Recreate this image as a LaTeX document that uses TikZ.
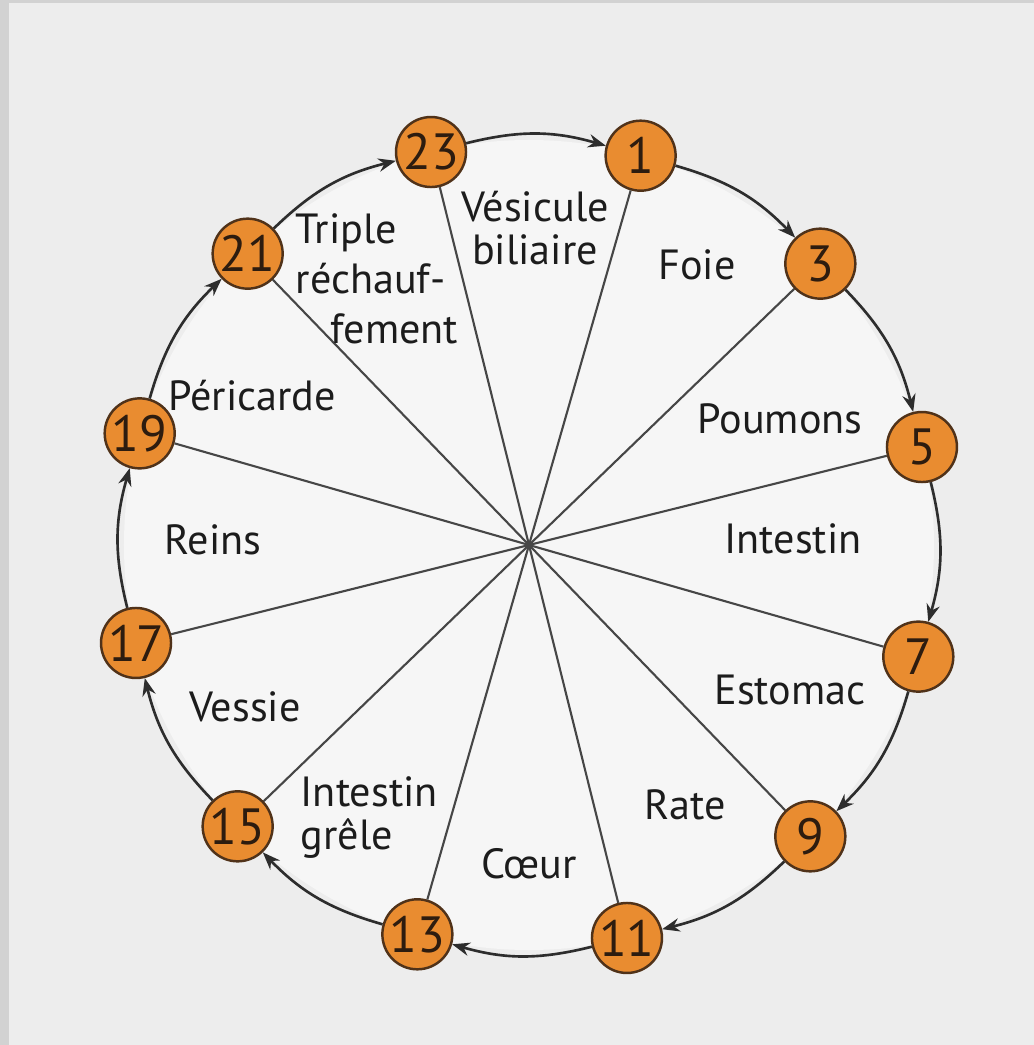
\documentclass[tikz,border=0pt]{standalone}
\usepackage{fontspec}
\setmainfont{PT Sans}
\usetikzlibrary{arrows.meta}

\definecolor{organe}{RGB}{233,140,48}
\definecolor{bord}{RGB}{80,50,25}
\definecolor{chiffre}{RGB}{45,28,15}
\definecolor{encre}{RGB}{28,28,28}
\definecolor{rayon}{RGB}{70,70,70}
\definecolor{fleche}{RGB}{45,45,45}
\definecolor{marge}{RGB}{210,210,210}
\definecolor{papier}{RGB}{237,237,237}
\definecolor{disque}{RGB}{246,246,246}

\tikzset{
  heure/.style={circle, draw=bord, fill=organe, line width=0.7pt,
    minimum size=0.7cm, inner sep=0pt, text=chiffre,
    font=\fontsize{14.5}{14.5}\selectfont},
  organe/.style={inner sep=0pt, text=encre, align=center,
    font=\fontsize{12}{12.2}\selectfont},
  rayon/.style={draw=rayon, line width=0.6pt},
  tour/.style={draw=fleche, line width=0.75pt,
    -{Stealth[length=5pt,width=3.8pt]}},
}

\begin{document}
\begin{tikzpicture}
    % Background (scanned page)
    \fill[marge] (-5.29,-5.00) rectangle (5.05,5.45);
    \fill[papier] (-5.20,-5.00) rectangle (5.05,5.42);
    \fill[disque] (0,0) circle (4.05);

    % Centre and the twelve hours
    \coordinate (c) at (0,0);
    \foreach \h [count=\i from 0] in {1,3,...,23}
        \node[heure] (h\h) at ({74-30*\i}:4.05) {\h};

    % Spokes
    \foreach \h in {1,3,...,23}
        \draw[rayon] (c) -- (h\h);

    % Clockwise cycle
    \foreach \a/\b in {1/3,3/5,5/7,7/9,9/11,11/13,13/15,15/17,17/19,19/21,21/23,23/1}
        \draw[tour] (h\a) to[bend left=15] (h\b);

    % Organs
    \node[organe] (vesicule) at (0.06,3.17) {Vésicule\\biliaire};
    \node[organe] (foie) at (1.68,2.80) {Foie};
    \node[organe] (poumons) at (2.51,1.26) {Poumons};
    \node[organe] (intestin) at (2.64,0.06) {Intestin};
    \node[organe] (estomac) at (2.61,-1.45) {Estomac};
    \node[organe] (rate) at (1.56,-2.60) {Rate};
    \node[organe] (coeur) at (0.00,-3.19) {Cœur};
    \node[organe, align=left, anchor=north west] (grele) at (-2.29,-2.31)
        {Intestin\\grêle};
    \node[organe] (vessie) at (-2.84,-1.62) {Vessie};
    \node[organe] (reins) at (-3.16,0.05) {Reins};
    \node[organe] (pericarde) at (-2.77,1.49) {Péricarde};
    \node[organe, align=left, anchor=north west] (triple) at (-2.34,3.32)
        {Triple\\[2pt]réchauf-\\[2pt]\hspace{0.35cm}fement};
\end{tikzpicture}
\end{document}
